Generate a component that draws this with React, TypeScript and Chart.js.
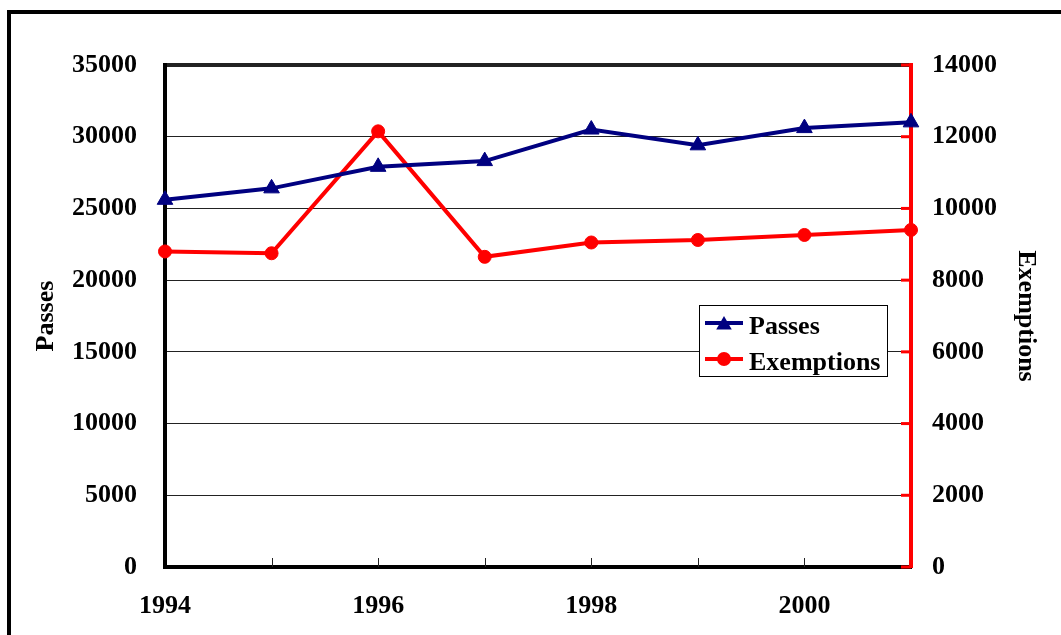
import React, { useEffect, useRef } from 'react';
import { Chart, registerables } from 'chart.js';

Chart.register(...registerables);

// Yearly figures
const years = ['1994', '1995', '1996', '1997', '1998', '1999', '2000', '2001'];
const passes = [25600, 26400, 27900, 28300, 30500, 29400, 30600, 31000];
const exemptions = [8800, 8750, 12150, 8650, 9050, 9120, 9260, 9400];

// Axis ranges
const passesMax = 35000;
const passesStep = 5000;
const exemptionsMax = 14000;
const exemptionsStep = 2000;

const NAVY = '#000080';
const RED = '#FF0000';
const FONT_FAMILY = "'Liberation Serif', 'Times New Roman', serif";
const FONT_SIZE = 26;
const font = { family: FONT_FAMILY, size: FONT_SIZE, weight: 'bold' as const, lineHeight: 1.2 };

// Page background plus the heavy frame around the whole figure
const framePlugin = {
  id: 'frame',
  beforeDraw(chart: Chart) {
    const { ctx, width, height } = chart;
    ctx.save();
    ctx.fillStyle = '#ffffff';
    ctx.fillRect(0, 0, width, height);
    ctx.strokeStyle = '#000000';
    ctx.lineWidth = 4;
    ctx.beginPath();
    ctx.moveTo(9, height + 10);
    ctx.lineTo(9, 12);
    ctx.lineTo(width + 10, 12);
    ctx.stroke();
    ctx.restore();
  },
};

// Inward tick marks on the category axis and the red secondary axis
const tickMarksPlugin = {
  id: 'tickMarks',
  afterDraw(chart: Chart) {
    const { ctx, chartArea } = chart;
    const x = chart.scales.x;
    const y1 = chart.scales.y1;
    ctx.save();
    ctx.strokeStyle = '#222222';
    ctx.lineWidth = 1;
    for (let i = 1; i < years.length - 1; i++) {
      const px = Math.round(x.getPixelForValue(i)) + 0.5;
      ctx.beginPath();
      ctx.moveTo(px, chartArea.bottom - 9);
      ctx.lineTo(px, chartArea.bottom);
      ctx.stroke();
    }
    ctx.strokeStyle = RED;
    ctx.lineWidth = 3;
    y1.ticks.forEach((t) => {
      const py = y1.getPixelForValue(t.value);
      ctx.beginPath();
      ctx.moveTo(chartArea.right - 10, py);
      ctx.lineTo(chartArea.right, py);
      ctx.stroke();
    });
    ctx.restore();
  },
};

function drawMarker(ctx: CanvasRenderingContext2D, style: string, x: number, y: number, r: number, color: string) {
  ctx.fillStyle = color;
  ctx.beginPath();
  if (style === 'triangle') {
    const s = Math.sin(Math.PI / 3) * r;
    ctx.moveTo(x, y - r);
    ctx.lineTo(x + s, y + r / 2);
    ctx.lineTo(x - s, y + r / 2);
    ctx.closePath();
  } else {
    ctx.arc(x, y, r, 0, Math.PI * 2);
  }
  ctx.fill();
}

// Boxed legend sitting inside the plot area
const boxLegendPlugin = {
  id: 'boxLegend',
  afterDatasetsDraw(chart: Chart) {
    const { ctx, chartArea } = chart;
    const left = chartArea.right - 212;
    const top = chartArea.top + 240;
    const w = 188;
    const h = 71;
    ctx.save();
    ctx.fillStyle = '#ffffff';
    ctx.fillRect(left, top, w, h);
    ctx.strokeStyle = '#000000';
    ctx.lineWidth = 1;
    ctx.strokeRect(left + 0.5, top + 0.5, w, h);
    ctx.font = `bold ${FONT_SIZE}px ${FONT_FAMILY}`;
    ctx.textBaseline = 'alphabetic';
    ctx.textAlign = 'left';
    chart.data.datasets.forEach((ds: any, i: number) => {
      const cy = top + 18 + i * 36;
      ctx.strokeStyle = ds.borderColor;
      ctx.lineWidth = 4;
      ctx.beginPath();
      ctx.moveTo(left + 6, cy);
      ctx.lineTo(left + 44, cy);
      ctx.stroke();
      const tri = ds.pointStyle === 'triangle';
      drawMarker(ctx, ds.pointStyle, left + 25, cy + (tri ? 2 : 0), tri ? 9 : 7, ds.borderColor);
      ctx.fillStyle = '#000000';
      ctx.fillText(ds.label, left + 50, cy + 11);
    });
    ctx.restore();
  },
};

export default function App() {
  const canvasRef = useRef<HTMLCanvasElement | null>(null);

  useEffect(() => {
    if (!canvasRef.current) return;
    const chart = new Chart(canvasRef.current, {
      type: 'line',
      data: {
        labels: years,
        datasets: [
          {
            label: 'Passes',
            data: passes,
            yAxisID: 'y',
            borderColor: NAVY,
            backgroundColor: NAVY,
            borderWidth: 4,
            pointStyle: 'triangle',
            pointRadius: 9,
            pointBorderWidth: 1,
            pointBackgroundColor: NAVY,
            pointBorderColor: NAVY,
            tension: 0,
            clip: false,
          },
          {
            label: 'Exemptions',
            data: exemptions,
            yAxisID: 'y1',
            borderColor: RED,
            backgroundColor: RED,
            borderWidth: 4,
            pointStyle: 'circle',
            pointRadius: 6.5,
            pointBorderWidth: 1,
            pointBackgroundColor: RED,
            pointBorderColor: RED,
            tension: 0,
            clip: false,
          },
        ],
      },
      options: {
        responsive: false,
        animation: false,
        layout: { padding: { top: 65, left: 0, right: 0, bottom: 0 } },
        plugins: {
          legend: { display: false },
          tooltip: { enabled: false },
        },
        scales: {
          x: {
            type: 'category',
            offset: false,
            grid: { display: false, drawTicks: false },
            border: { display: true, color: '#000000', width: 4 },
            ticks: {
              autoSkip: false,
              maxRotation: 0,
              minRotation: 0,
              padding: 24,
              color: '#000000',
              font,
              callback: (_v: any, i: number) => (i % 2 === 0 ? years[i] : ''),
            },
            afterFit: (s: any) => {
              s.height = 68;
            },
          },
          y: {
            type: 'linear',
            position: 'left',
            min: 0,
            max: passesMax,
            ticks: {
              stepSize: passesStep,
              padding: 28,
              color: '#000000',
              font,
              callback: (v: any) => String(v),
            },
            grid: {
              drawTicks: false,
              color: '#222222',
              lineWidth: (c: any) => (c.tick && c.tick.value === passesMax ? 4 : 1),
            },
            border: { display: true, color: '#000000', width: 4 },
            title: {
              display: true,
              text: 'Passes',
              color: '#000000',
              font,
              padding: { top: 31, bottom: 0 },
            },
            afterFit: (s: any) => {
              s.width = 165;
            },
          },
          y1: {
            type: 'linear',
            position: 'right',
            min: 0,
            max: exemptionsMax,
            ticks: {
              stepSize: exemptionsStep,
              padding: 21,
              color: '#000000',
              font,
              callback: (v: any) => String(v),
            },
            grid: { drawOnChartArea: false, drawTicks: false },
            border: { display: true, color: RED, width: 4 },
            title: {
              display: true,
              text: 'Exemptions',
              color: '#000000',
              font,
              padding: { top: 20, bottom: 0 },
            },
            afterFit: (s: any) => {
              s.width = 150;
            },
          },
        },
      },
      plugins: [framePlugin, tickMarksPlugin, boxLegendPlugin],
    });
    return () => chart.destroy();
  }, []);

  return (
    <div style={{ position: 'absolute', left: 0, top: 0, width: 1061, height: 635 }}>
      <canvas ref={canvasRef} width={1061} height={635} style={{ display: 'block' }} />
    </div>
  );
}
